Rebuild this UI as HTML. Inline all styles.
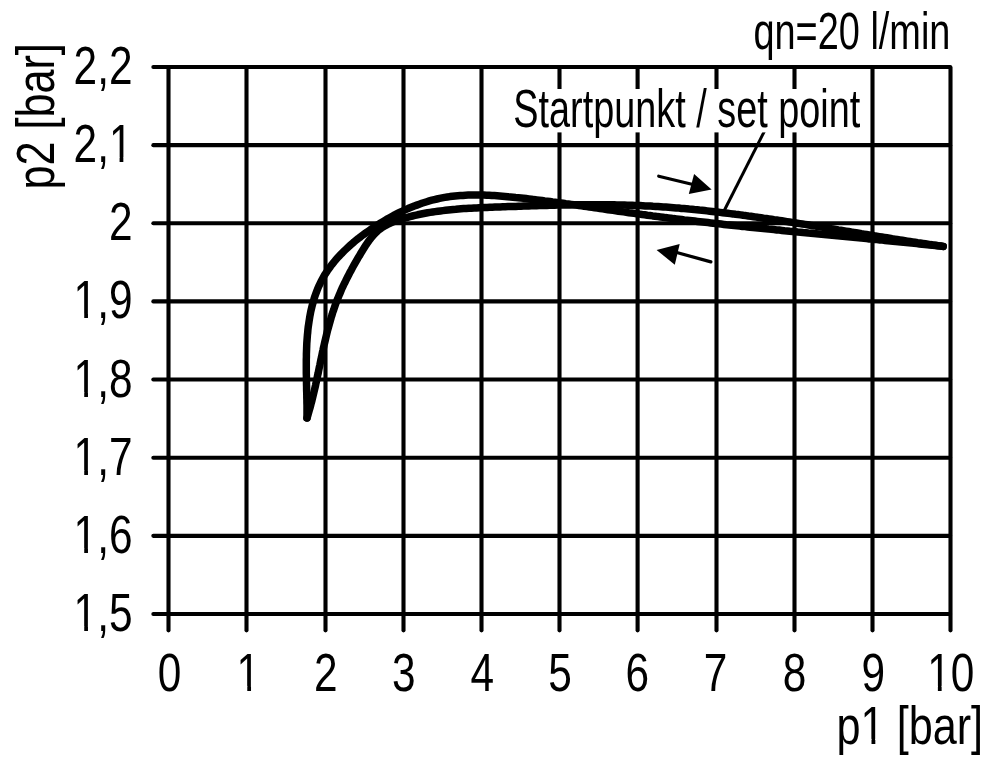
<!DOCTYPE html>
<html><head><meta charset="utf-8"><style>
html,body{margin:0;padding:0;background:#fff;}
svg{display:block;filter:grayscale(1);}
text{font-family:"Liberation Sans",sans-serif;fill:#000;stroke:none;}
</style></head><body>
<svg width="1000" height="764" viewBox="0 0 1000 764">
<rect width="1000" height="764" fill="#fff"/>
<g stroke="#000" fill="#000" stroke-linecap="round" stroke-linejoin="round">
<line x1="168.50" y1="67.60" x2="168.50" y2="630.35" stroke-width="4.1"/>
<line x1="246.50" y1="67.60" x2="246.50" y2="630.35" stroke-width="4.1"/>
<line x1="325.50" y1="67.60" x2="325.50" y2="630.35" stroke-width="4.1"/>
<line x1="403.50" y1="67.60" x2="403.50" y2="630.35" stroke-width="4.1"/>
<line x1="481.50" y1="67.60" x2="481.50" y2="630.35" stroke-width="4.1"/>
<line x1="559.50" y1="67.60" x2="559.50" y2="630.35" stroke-width="4.1"/>
<line x1="637.60" y1="67.60" x2="637.60" y2="630.35" stroke-width="4.1"/>
<line x1="716.50" y1="67.60" x2="716.50" y2="630.35" stroke-width="4.1"/>
<line x1="794.50" y1="67.60" x2="794.50" y2="630.35" stroke-width="4.1"/>
<line x1="872.50" y1="67.60" x2="872.50" y2="630.35" stroke-width="4.1"/>
<line x1="950.50" y1="67.60" x2="950.50" y2="630.35" stroke-width="4.1"/>
<line x1="153.35" y1="67.00" x2="950.10" y2="67.00" stroke-width="4.1"/>
<line x1="153.35" y1="145.14" x2="950.10" y2="145.14" stroke-width="4.1"/>
<line x1="153.35" y1="223.28" x2="950.10" y2="223.28" stroke-width="4.1"/>
<line x1="153.35" y1="301.42" x2="950.10" y2="301.42" stroke-width="4.1"/>
<line x1="153.35" y1="379.56" x2="950.10" y2="379.56" stroke-width="4.1"/>
<line x1="153.35" y1="457.70" x2="950.10" y2="457.70" stroke-width="4.1"/>
<line x1="153.35" y1="535.84" x2="950.10" y2="535.84" stroke-width="4.1"/>
<line x1="153.35" y1="613.98" x2="950.10" y2="613.98" stroke-width="4.1"/>
<path d="M307.0,418.0 L307.0,415.5 L307.0,413.0 L307.0,410.4 L307.0,407.9 L307.0,405.3 L306.9,402.7 L306.9,400.1 L306.8,397.5 L306.8,394.8 L306.7,392.2 L306.6,389.5 L306.6,386.9 L306.5,384.2 L306.5,381.5 L306.4,378.8 L306.4,376.1 L306.3,373.3 L306.3,370.6 L306.3,367.9 L306.3,365.2 L306.3,362.4 L306.3,359.7 L306.4,357.0 L306.4,354.2 L306.5,351.5 L306.6,348.8 L306.7,346.0 L306.8,343.3 L307.0,340.6 L307.2,337.9 L307.4,335.2 L307.7,332.5 L307.9,329.8 L308.2,327.1 L308.6,324.5 L309.0,321.8 L309.4,319.2 L309.8,316.6 L310.3,314.0 L310.8,311.4 L311.4,308.8 L312.0,306.3 L312.7,303.7 L313.4,301.2 L314.1,298.7 L314.9,296.3 L315.8,293.8 L316.7,291.4 L317.6,289.0 L318.6,286.6 L319.7,284.3 L320.8,282.0 L322.0,279.7 L323.2,277.5 L324.5,275.2 L325.9,273.1 L327.3,270.9 L328.8,268.8 L330.3,266.7 L331.9,264.6 L333.5,262.6 L335.2,260.5 L336.9,258.6 L338.7,256.6 L340.5,254.7 L342.3,252.8 L344.2,250.9 L346.1,249.1 L348.1,247.2 L350.1,245.4 L352.1,243.7 L354.1,241.9 L356.2,240.2 L358.3,238.5 L360.5,236.9 L362.6,235.2 L364.8,233.6 L367.0,232.0 L369.2,230.5 L371.5,228.9 L373.7,227.4 L376.0,225.9 L378.3,224.4 L380.6,223.0 L382.9,221.6 L385.3,220.2 L387.6,218.8 L390.0,217.5 L392.3,216.2 L394.7,214.9 L397.1,213.7 L399.6,212.5 L402.0,211.3 L404.4,210.2 L406.9,209.1 L409.3,208.0 L411.8,207.0 L414.3,206.0 L416.8,205.1 L419.3,204.2 L421.8,203.3 L424.3,202.5 L426.8,201.7 L429.3,200.9 L431.9,200.2 L434.4,199.6 L437.0,199.0 L439.6,198.4 L442.1,197.9 L444.7,197.4 L447.3,197.0 L449.9,196.6 L452.5,196.3 L455.1,196.0 L457.7,195.8 L460.3,195.6 L462.9,195.4 L465.5,195.2 L468.1,195.1 L470.7,195.0 L473.4,195.0 L476.0,195.0 L478.6,195.0 L481.2,195.0 L483.9,195.1 L486.5,195.2 L489.2,195.3 L491.8,195.5 L494.4,195.6 L497.1,195.8 L499.7,196.0 L502.4,196.2 L505.0,196.4 L507.7,196.7 L510.3,196.9 L513.0,197.2 L515.6,197.5 L518.3,197.7 L520.9,198.0 L523.6,198.3 L526.2,198.6 L528.9,198.9 L531.5,199.2 L534.1,199.6 L536.8,199.9 L539.4,200.2 L542.1,200.5 L544.7,200.9 L547.3,201.2 L550.0,201.5 L552.6,201.9 L555.2,202.2 L557.9,202.6 L560.5,202.9 L563.2,203.3 L565.8,203.7 L568.4,204.0 L571.1,204.4 L573.7,204.8 L576.3,205.1 L579.0,205.5 L581.6,205.9 L584.2,206.3 L586.8,206.6 L589.5,207.0 L592.1,207.4 L594.7,207.8 L597.4,208.1 L600.0,208.5 L602.6,208.9 L605.3,209.3 L607.9,209.7 L610.5,210.0 L613.1,210.4 L615.8,210.8 L618.4,211.2 L621.0,211.5 L623.7,211.9 L626.3,212.3 L628.9,212.7 L631.6,213.0 L634.2,213.4 L636.8,213.8 L639.5,214.1 L642.1,214.5 L644.7,214.8 L647.3,215.2 L650.0,215.5 L652.6,215.9 L655.2,216.2 L657.9,216.6 L660.5,216.9 L663.1,217.2 L665.8,217.6 L668.4,217.9 L671.1,218.2 L673.7,218.6 L676.3,218.9 L679.0,219.2 L681.6,219.5 L684.2,219.9 L686.9,220.2 L689.5,220.5 L692.1,220.8 L694.8,221.1 L697.4,221.4 L700.1,221.7 L702.7,222.0 L705.3,222.3 L708.0,222.6 L710.6,222.9 L713.3,223.2 L715.9,223.5 L718.5,223.8 L721.2,224.1 L723.8,224.4 L726.5,224.7 L729.1,224.9 L731.7,225.2 L734.4,225.5 L737.0,225.8 L739.7,226.1 L742.3,226.4 L744.9,226.6 L747.6,226.9 L750.2,227.2 L752.9,227.5 L755.5,227.7 L758.2,228.0 L760.8,228.3 L763.4,228.5 L766.1,228.8 L768.7,229.1 L771.4,229.3 L774.0,229.6 L776.7,229.9 L779.3,230.1 L781.9,230.4 L784.6,230.7 L787.2,230.9 L789.9,231.2 L792.5,231.4 L795.2,231.7 L797.8,232.0 L800.5,232.2 L803.1,232.5 L805.7,232.7 L808.4,233.0 L811.0,233.2 L813.7,233.5 L816.3,233.7 L819.0,234.0 L821.6,234.3 L824.3,234.5 L826.9,234.8 L829.5,235.0 L832.2,235.3 L834.8,235.5 L837.5,235.8 L840.1,236.0 L842.8,236.3 L845.4,236.5 L848.1,236.8 L850.7,237.1 L853.3,237.3 L856.0,237.6 L858.6,237.8 L861.3,238.1 L863.9,238.3 L866.6,238.6 L869.2,238.9 L871.9,239.1 L874.5,239.4 L877.1,239.6 L879.8,239.9 L882.4,240.1 L885.1,240.4 L887.7,240.7 L890.4,240.9 L893.0,241.2 L895.6,241.5 L898.3,241.7 L900.9,242.0 L903.6,242.3 L906.2,242.5 L908.9,242.8 L911.5,243.1 L914.1,243.3 L916.8,243.6 L919.4,243.9 L922.1,244.2 L924.7,244.4 L927.4,244.7 L930.0,245.0 L932.6,245.3 L935.3,245.5 L937.9,245.8 L940.6,246.1 L943.2,246.4" fill="none" stroke-width="7.5"/>
<path d="M307.0,418.0 L307.8,415.6 L308.5,413.1 L309.2,410.6 L309.9,408.2 L310.6,405.7 L311.2,403.2 L311.9,400.7 L312.5,398.2 L313.1,395.7 L313.7,393.2 L314.3,390.7 L314.9,388.2 L315.5,385.6 L316.0,383.1 L316.6,380.6 L317.1,378.0 L317.6,375.5 L318.2,373.0 L318.7,370.4 L319.2,367.9 L319.8,365.3 L320.3,362.8 L320.8,360.2 L321.4,357.7 L321.9,355.2 L322.4,352.6 L323.0,350.1 L323.5,347.6 L324.1,345.0 L324.7,342.5 L325.3,340.0 L325.9,337.4 L326.5,334.9 L327.1,332.4 L327.7,329.9 L328.4,327.4 L329.1,324.9 L329.8,322.4 L330.5,319.9 L331.2,317.4 L332.0,315.0 L332.7,312.5 L333.6,310.1 L334.4,307.6 L335.2,305.2 L336.1,302.8 L337.0,300.4 L338.0,297.9 L339.0,295.6 L340.0,293.2 L341.0,290.8 L342.0,288.4 L343.1,286.1 L344.2,283.7 L345.4,281.4 L346.5,279.1 L347.7,276.7 L348.9,274.4 L350.1,272.1 L351.4,269.8 L352.6,267.5 L353.9,265.2 L355.2,262.9 L356.5,260.6 L357.8,258.3 L359.2,256.1 L360.5,253.8 L361.9,251.5 L363.3,249.3 L364.7,247.0 L366.1,244.8 L367.6,242.6 L369.1,240.5 L370.7,238.4 L372.3,236.4 L374.0,234.5 L375.8,232.7 L377.6,231.0 L379.5,229.4 L381.6,227.9 L383.7,226.6 L385.9,225.3 L388.1,224.2 L390.4,223.1 L392.7,222.1 L395.1,221.2 L397.6,220.3 L400.0,219.5 L402.5,218.7 L405.0,218.0 L407.4,217.3 L409.9,216.6 L412.4,216.0 L414.9,215.4 L417.5,214.8 L420.0,214.3 L422.5,213.8 L425.0,213.3 L427.6,212.8 L430.1,212.4 L432.7,212.0 L435.2,211.6 L437.8,211.2 L440.4,210.9 L442.9,210.6 L445.5,210.3 L448.1,210.0 L450.7,209.7 L453.2,209.5 L455.8,209.3 L458.4,209.0 L461.0,208.8 L463.6,208.6 L466.2,208.5 L468.8,208.3 L471.4,208.2 L474.0,208.0 L476.6,207.9 L479.2,207.7 L481.8,207.6 L484.5,207.5 L487.1,207.4 L489.7,207.3 L492.3,207.2 L494.9,207.1 L497.5,207.0 L500.1,206.9 L502.7,206.8 L505.3,206.7 L507.9,206.6 L510.5,206.5 L513.1,206.5 L515.8,206.4 L518.4,206.3 L521.0,206.2 L523.6,206.1 L526.2,206.0 L528.8,205.9 L531.4,205.8 L534.0,205.8 L536.6,205.7 L539.2,205.6 L541.8,205.5 L544.3,205.5 L546.9,205.4 L549.5,205.3 L552.1,205.2 L554.7,205.2 L557.3,205.1 L559.9,205.1 L562.5,205.0 L565.1,205.0 L567.7,204.9 L570.3,204.9 L572.9,204.8 L575.5,204.8 L578.0,204.8 L580.6,204.7 L583.2,204.7 L585.8,204.7 L588.4,204.7 L591.0,204.7 L593.6,204.7 L596.2,204.7 L598.7,204.7 L601.3,204.7 L603.9,204.7 L606.5,204.7 L609.1,204.8 L611.7,204.8 L614.3,204.8 L616.8,204.9 L619.4,204.9 L622.0,205.0 L624.6,205.1 L627.2,205.2 L629.8,205.2 L632.3,205.3 L634.9,205.4 L637.5,205.5 L640.1,205.6 L642.7,205.7 L645.2,205.9 L647.8,206.0 L650.4,206.1 L653.0,206.3 L655.6,206.4 L658.1,206.6 L660.7,206.8 L663.3,207.0 L665.9,207.1 L668.5,207.3 L671.0,207.5 L673.6,207.7 L676.2,207.9 L678.8,208.1 L681.4,208.4 L683.9,208.6 L686.5,208.8 L689.1,209.1 L691.7,209.3 L694.3,209.6 L696.8,209.8 L699.4,210.1 L702.0,210.3 L704.6,210.6 L707.1,210.9 L709.7,211.2 L712.3,211.5 L714.9,211.8 L717.5,212.1 L720.0,212.4 L722.6,212.7 L725.2,213.0 L727.8,213.3 L730.3,213.6 L732.9,213.9 L735.5,214.3 L738.1,214.6 L740.6,214.9 L743.2,215.3 L745.8,215.6 L748.4,216.0 L750.9,216.3 L753.5,216.7 L756.1,217.1 L758.7,217.4 L761.2,217.8 L763.8,218.2 L766.4,218.5 L768.9,218.9 L771.5,219.3 L774.1,219.7 L776.7,220.0 L779.2,220.4 L781.8,220.8 L784.4,221.2 L786.9,221.6 L789.5,222.0 L792.1,222.4 L794.7,222.8 L797.2,223.2 L799.8,223.6 L802.4,224.0 L804.9,224.4 L807.5,224.8 L810.1,225.3 L812.6,225.7 L815.2,226.1 L817.8,226.5 L820.3,226.9 L822.9,227.3 L825.5,227.7 L828.0,228.2 L830.6,228.6 L833.2,229.0 L835.7,229.4 L838.3,229.9 L840.9,230.3 L843.4,230.7 L846.0,231.1 L848.6,231.5 L851.1,232.0 L853.7,232.4 L856.2,232.8 L858.8,233.2 L861.4,233.7 L863.9,234.1 L866.5,234.5 L869.1,234.9 L871.6,235.3 L874.2,235.8 L876.7,236.2 L879.3,236.6 L881.9,237.0 L884.4,237.4 L887.0,237.8 L889.5,238.2 L892.1,238.7 L894.7,239.1 L897.2,239.5 L899.8,239.9 L902.3,240.3 L904.9,240.7 L907.4,241.1 L910.0,241.5 L912.6,241.9 L915.1,242.3 L917.7,242.7 L920.2,243.0 L922.8,243.4 L925.3,243.8 L927.9,244.2 L930.4,244.6 L933.0,244.9 L935.5,245.3 L938.1,245.7 L940.6,246.0 L943.2,246.4" fill="none" stroke-width="7.5"/>
<line x1="766" y1="128" x2="723.5" y2="212" stroke-width="3" stroke-linecap="butt"/>
<line x1="658.7" y1="176.2" x2="695" y2="185" stroke-width="3.2"/>
<polygon points="694.1,174.1 711.6,189.5 688.8,194" stroke="none"/>
<line x1="710.9" y1="261.9" x2="675" y2="252" stroke-width="3.2"/>
<polygon points="656.6,250 679.7,244.1 674.8,264.7" stroke="none"/>
<rect x="505" y="89" width="362" height="43.4" fill="#fff" stroke="none"/>
<g transform="translate(513.28,127.20) scale(0.7140,1)"><text x="0.00" y="0" font-size="53">Startpunkt / set point</text></g>
<g transform="translate(753.41,49.00) scale(0.7250,1)"><text x="0.00" y="0" font-size="52.3">qn=20 l/min</text></g>
<g transform="translate(132.50,84.00) scale(0.7850,1)"><text x="-75.07" y="0" font-size="54">2,2</text></g>
<g transform="translate(132.50,162.14) scale(0.7850,1)"><text x="-75.07" y="0" font-size="54">2,1</text><rect x="-27.40" y="-4.61" width="10.94" height="5.67" fill="#fff" stroke="none"/><rect x="-11.68" y="-4.61" width="10.65" height="5.67" fill="#fff" stroke="none"/></g>
<g transform="translate(132.50,240.28) scale(0.7850,1)"><text x="-30.03" y="0" font-size="54">2</text></g>
<g transform="translate(132.50,318.42) scale(0.7850,1)"><text x="-75.07" y="0" font-size="54">1,9</text><rect x="-72.43" y="-4.61" width="10.94" height="5.67" fill="#fff" stroke="none"/><rect x="-56.72" y="-4.61" width="10.65" height="5.67" fill="#fff" stroke="none"/></g>
<g transform="translate(132.50,396.56) scale(0.7850,1)"><text x="-75.07" y="0" font-size="54">1,8</text><rect x="-72.43" y="-4.61" width="10.94" height="5.67" fill="#fff" stroke="none"/><rect x="-56.72" y="-4.61" width="10.65" height="5.67" fill="#fff" stroke="none"/></g>
<g transform="translate(132.50,474.70) scale(0.7850,1)"><text x="-75.07" y="0" font-size="54">1,7</text><rect x="-72.43" y="-4.61" width="10.94" height="5.67" fill="#fff" stroke="none"/><rect x="-56.72" y="-4.61" width="10.65" height="5.67" fill="#fff" stroke="none"/></g>
<g transform="translate(132.50,552.84) scale(0.7850,1)"><text x="-75.07" y="0" font-size="54">1,6</text><rect x="-72.43" y="-4.61" width="10.94" height="5.67" fill="#fff" stroke="none"/><rect x="-56.72" y="-4.61" width="10.65" height="5.67" fill="#fff" stroke="none"/></g>
<g transform="translate(132.50,630.98) scale(0.7850,1)"><text x="-75.07" y="0" font-size="54">1,5</text><rect x="-72.43" y="-4.61" width="10.94" height="5.67" fill="#fff" stroke="none"/><rect x="-56.72" y="-4.61" width="10.65" height="5.67" fill="#fff" stroke="none"/></g>
<g transform="translate(169.60,690.50) scale(0.7850,1)"><text x="-15.02" y="0" font-size="54">0</text></g>
<g transform="translate(248.40,690.50) scale(0.7850,1)"><text x="-15.02" y="0" font-size="54">1</text><rect x="-12.38" y="-4.61" width="10.94" height="5.67" fill="#fff" stroke="none"/><rect x="3.34" y="-4.61" width="10.65" height="5.67" fill="#fff" stroke="none"/></g>
<g transform="translate(325.70,690.50) scale(0.7850,1)"><text x="-15.02" y="0" font-size="54">2</text></g>
<g transform="translate(403.90,690.50) scale(0.7850,1)"><text x="-15.02" y="0" font-size="54">3</text></g>
<g transform="translate(482.40,690.50) scale(0.7850,1)"><text x="-15.02" y="0" font-size="54">4</text></g>
<g transform="translate(560.00,690.50) scale(0.7850,1)"><text x="-15.02" y="0" font-size="54">5</text></g>
<g transform="translate(637.30,690.50) scale(0.7850,1)"><text x="-15.02" y="0" font-size="54">6</text></g>
<g transform="translate(715.60,690.50) scale(0.7850,1)"><text x="-15.02" y="0" font-size="54">7</text></g>
<g transform="translate(794.60,690.50) scale(0.7850,1)"><text x="-15.02" y="0" font-size="54">8</text></g>
<g transform="translate(873.20,690.50) scale(0.7850,1)"><text x="-15.02" y="0" font-size="54">9</text></g>
<g transform="translate(950.80,690.50) scale(0.7850,1)"><text x="-30.03" y="0" font-size="54">10</text><rect x="-27.40" y="-4.61" width="10.94" height="5.67" fill="#fff" stroke="none"/><rect x="-11.68" y="-4.61" width="10.65" height="5.67" fill="#fff" stroke="none"/></g>
<g transform="translate(836.61,743.50) scale(0.8000,1)"><text x="0.00" y="0" font-size="54">p1 [bar]</text><rect x="32.67" y="-4.61" width="10.94" height="5.67" fill="#fff" stroke="none"/><rect x="48.38" y="-4.61" width="10.65" height="5.67" fill="#fff" stroke="none"/></g>
<g transform="translate(53.90,189.59) rotate(-90) scale(0.8000,1)"><text x="0.00" y="0" font-size="54">p2 [bar]</text></g>
</g>
</svg>
</body></html>
